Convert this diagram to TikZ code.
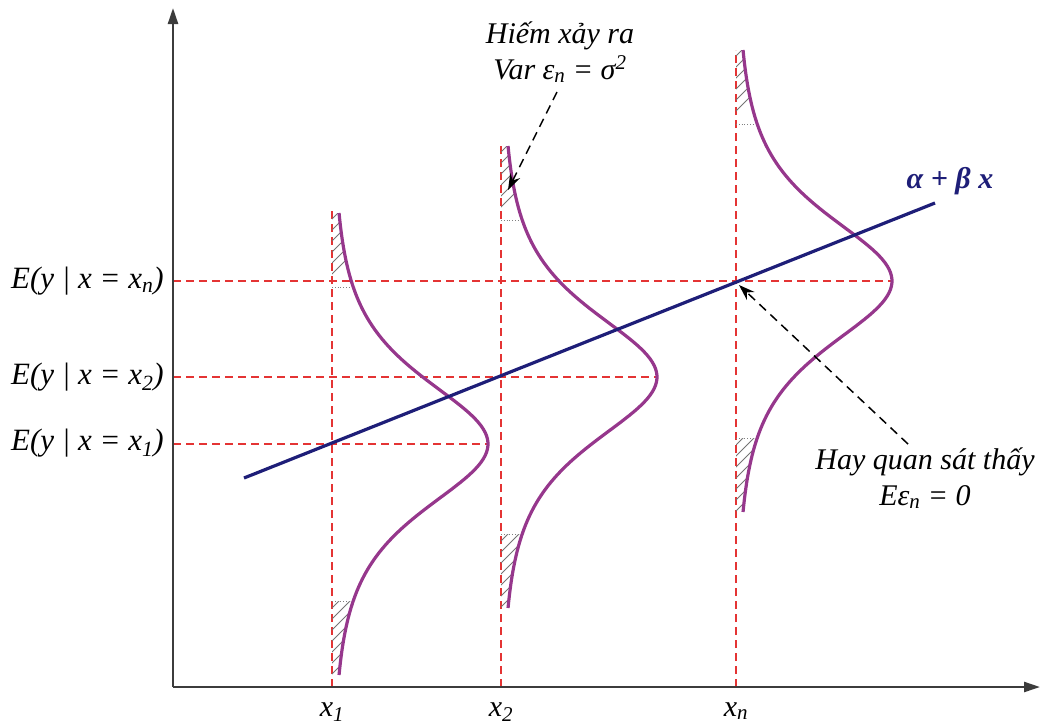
\documentclass[tikz,border=0pt]{standalone}
\usepackage{fontspec}
\setmainfont{Liberation Serif}
\usetikzlibrary{arrows.meta}
\definecolor{guidered}{RGB}{228,52,52}
\definecolor{bellpurple}{RGB}{150,55,140}
\definecolor{regnavy}{RGB}{30,30,120}
\definecolor{axisgray}{RGB}{60,60,60}
\begin{document}
\begin{tikzpicture}[x=1pt,y=-1pt,
  axis/.style={draw=axisgray, line width=2.4pt, -{Triangle[length=16pt,width=10pt]}},
  guide/.style={draw=guidered, line width=1.6pt, dash pattern=on 8pt off 5pt},
  bell/.style={draw=bellpurple, line width=3.2pt},
  regline/.style={draw=regnavy, line width=3.2pt},
  hatchline/.style={draw=gray!90!black, line width=0.9pt},
  hatchedge/.style={draw=gray, line width=0.8pt, dotted},
  lbl/.style={font=\fontsize{30}{36}\selectfont\itshape, text=black, inner sep=0pt, align=center},
  callout/.style={draw=black, line width=1.5pt, dash pattern=on 9pt off 6pt, -{Stealth[length=16pt,width=11pt]}}]

\useasboundingbox (0,0) rectangle (1042,724);

% guides
\coordinate (x1b) at (332,687); \coordinate (x1t) at (332,208);
\coordinate (x2b) at (501,687); \coordinate (x2t) at (501,146);
\coordinate (xnb) at (736,687); \coordinate (xnt) at (736,50);
\coordinate (e1l) at (173,444); \coordinate (e1r) at (488,444);
\coordinate (e2l) at (173,377); \coordinate (e2r) at (657,377);
\coordinate (enl) at (173,281); \coordinate (enr) at (892,281);
\draw[guide] (x1b) -- (x1t);
\draw[guide] (x2b) -- (x2t);
\draw[guide] (xnb) -- (xnt);
\draw[guide] (e1l) -- (e1r);
\draw[guide] (e2l) -- (e2r);
\draw[guide] (enl) -- (enr);

% bell curves with hatched tails
\foreach \xc/\yc in {332/444, 501/377, 736/281}{
  \begin{scope}
    \clip (\xc,\yc-231) -- plot[domain=-231:-157,samples=30,variable=\d] ({\xc+156/(1+(\d/120)^2)^2},{\yc+\d}) -- (\xc,\yc-157) -- cycle;
    \foreach \k in {0,...,12} \draw[hatchline] (\xc-40,\yc-130-\k*11) -- ++(80,-80);
  \end{scope}
  \begin{scope}
    \clip (\xc,\yc+157) -- plot[domain=157:231,samples=30,variable=\d] ({\xc+156/(1+(\d/120)^2)^2},{\yc+\d}) -- (\xc,\yc+231) -- cycle;
    \foreach \k in {0,...,12} \draw[hatchline] (\xc-40,\yc+270-\k*11) -- ++(80,-80);
  \end{scope}
  \draw[hatchedge] (\xc,\yc-157) -- (\xc+21,\yc-157);
  \draw[hatchedge] (\xc,\yc+157) -- (\xc+21,\yc+157);
  \draw[bell] plot[domain=-231:231,samples=140,variable=\d] ({\xc+156/(1+(\d/120)^2)^2},{\yc+\d});
}

% regression line
\coordinate (r0) at (244,478);
\coordinate (r1) at (935,203);
\draw[regline] (r0) -- (r1);
\node[font=\fontsize{30}{36}\selectfont\bfseries\itshape, text=regnavy, inner sep=0pt] (reglbl) at (950,181) {α + β x};

% axes
\coordinate (O) at (173,687);
\coordinate (ytop) at (173,8);
\coordinate (xend) at (1040,687);
\draw[axis] (O) -- (ytop);
\draw[axis] (O) -- (xend);

% left labels
\node[lbl, font=\fontsize{31}{36}\selectfont\itshape, anchor=east] (lbn) at (164,281) {E(y | x = x\textsubscript{n})};
\node[lbl, font=\fontsize{31}{36}\selectfont\itshape, anchor=east] (lb2) at (164,377) {E(y | x = x\textsubscript{2})};
\node[lbl, font=\fontsize{31}{36}\selectfont\itshape, anchor=east] (lb1) at (164,443) {E(y | x = x\textsubscript{1})};

% bottom labels
\node[lbl, anchor=base] (bx1) at (332,716) {x\textsubscript{1}};
\node[lbl, anchor=base] (bx2) at (501,716) {x\textsubscript{2}};
\node[lbl, anchor=base] (bxn) at (736,716) {x\textsubscript{n}};

% callouts
\node[lbl] (topnote) at (560,52) {Hiếm xảy ra\\Var ε\textsubscript{n} = σ\textsuperscript{2}};
\coordinate (topstart) at (557,92);
\coordinate (toptip) at (508,190);
\draw[callout] (topstart) -- (toptip);

\node[lbl] (botnote) at (925,478) {Hay quan sát thấy\\Eε\textsubscript{n} = 0};
\coordinate (botstart) at (908,444);
\coordinate (bottip) at (739,285);
\draw[callout] (botstart) -- (bottip);
\end{tikzpicture}
\end{document}
